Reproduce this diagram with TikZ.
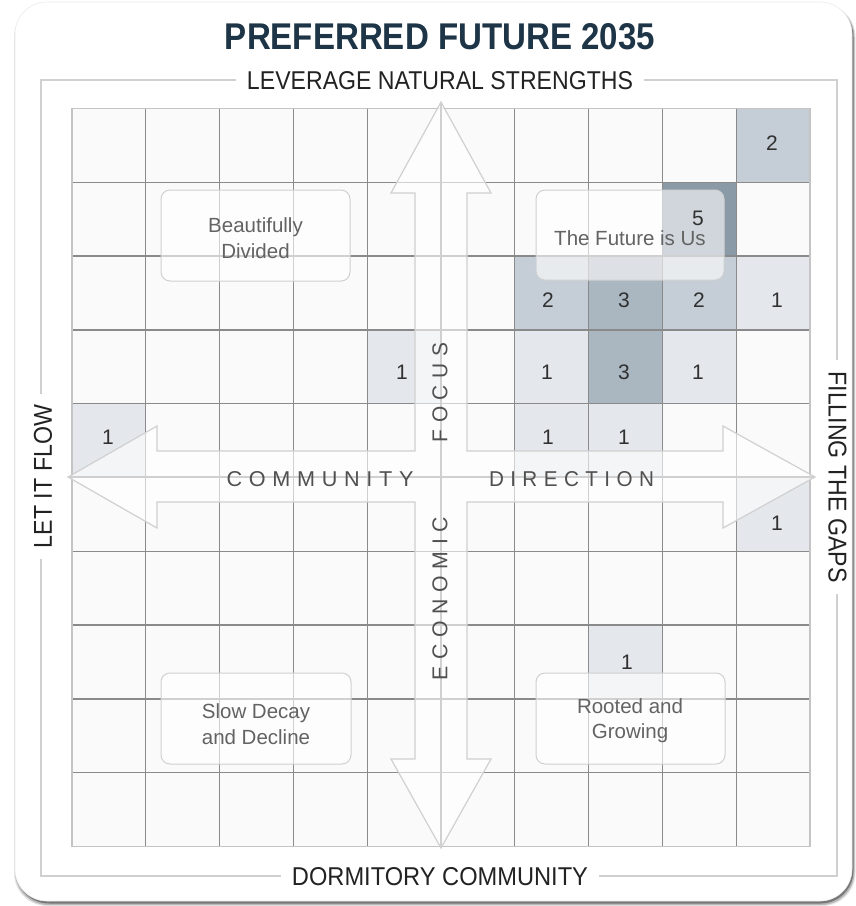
\documentclass[tikz,border=0pt]{standalone}
\usepackage{fontspec}
\setmainfont{Liberation Sans}
\usepackage{graphicx}
\definecolor{titlecol}{HTML}{1D3547}
\definecolor{labelcol}{HTML}{222222}
\definecolor{axiscol}{HTML}{505050}
\definecolor{boxtext}{HTML}{636363}
\definecolor{numcol}{HTML}{303030}
\definecolor{gridcol}{HTML}{8A8A8A}
\definecolor{gridedge}{HTML}{C4C4C4}
\definecolor{gridbg}{HTML}{FAFAFA}
\definecolor{framecol}{HTML}{D0D0D0}
\definecolor{arrowcol}{HTML}{D0D0D0}
\definecolor{lvA}{HTML}{E4E8EC}
\definecolor{lvB}{HTML}{C5CED6}
\definecolor{lvC}{HTML}{AAB6C0}
\definecolor{lvD}{HTML}{8B9AA7}
\newdimen\trackamt
\trackamt=6.5pt
\def\trackit#1{\trackloop#1\relax\kern-\trackamt}
\def\trackloop#1{\ifx#1\relax\else#1\kern\trackamt\expandafter\trackloop\fi}
\tikzset{
  cellA/.style={fill=lvA},
  cellB/.style={fill=lvB},
  cellC/.style={fill=lvC},
  cellD/.style={fill=lvD},
  gridline/.style={draw=gridcol,line width=1.3pt},
  sidelabel/.style={fill=white,inner xsep=11pt,inner ysep=3pt,text=labelcol},
  axislabel/.style={text=axiscol,inner sep=0pt},
  quadbox/.style={draw=framecol,line width=1pt,fill=white,fill opacity=0.6,rounded corners=9pt},
  quadtext/.style={text=boxtext,align=center,font=\fontsize{20.5}{25.5}\selectfont},
  numlabel/.style={text=numcol,inner sep=0pt,font=\fontsize{21}{24}\selectfont},
}
\begin{document}
\begin{tikzpicture}[x=1pt,y=-1pt]
\useasboundingbox (0,0) rectangle (856,906);
\fill[white] (0,0) rectangle (856,906);
% card shadow and card
\fill[black,opacity=0.10,rounded corners=33pt] (14,4) rectangle (855.5,906);
\fill[black,opacity=0.20,rounded corners=33pt] (15,4) rectangle (854.5,905);
\fill[black,opacity=0.35,rounded corners=33pt] (16,4) rectangle (853.5,903.5);
\fill[white,rounded corners=32pt] (15,2) rectangle (852,901);
\draw[black!8,line width=0.6pt,rounded corners=32pt] (15,2) rectangle (852,901);
% title
\node[text=titlecol,inner sep=0pt] (title) at (440,37) {\resizebox{430pt}{26pt}{\bfseries PREFERRED FUTURE 2035}};
% frame
\draw[framecol,line width=1.2pt] (41,80) rectangle (837,876);
\node[sidelabel] (top) at (440,81) {\resizebox{386pt}{18pt}{LEVERAGE NATURAL STRENGTHS}};
\node[sidelabel] (bottom) at (440,877) {\resizebox{296pt}{18pt}{DORMITORY COMMUNITY}};
\node[sidelabel,rotate=90] (left) at (43,476.5) {\resizebox{143pt}{18pt}{LET IT FLOW}};
\node[sidelabel,rotate=-90] (right) at (837.5,477) {\resizebox{211pt}{18pt}{FILLING THE GAPS}};
% grid background
\fill[gridbg] (72,108.5) rectangle (810,846.5);
% cells
\foreach \c/\r/\s in {9/0/cellB, 8/1/cellD, 6/2/cellB, 7/2/cellC, 8/2/cellB, 9/2/cellA,
  4/3/cellA, 6/3/cellA, 7/3/cellC, 8/3/cellA, 0/4/cellA, 6/4/cellA, 7/4/cellA, 9/5/cellA, 7/7/cellA}
  \fill[\s] ({72+\c*73.8},{108.5+\r*73.8}) rectangle +(73.8,73.8);
% grid lines
\foreach \i in {1,...,9}{
  \draw[gridline] ({72+\i*73.8},108.5) -- ({72+\i*73.8},846.5);
  \draw[gridline] (72,{108.5+\i*73.8}) -- (810,{108.5+\i*73.8});
}
\draw[gridedge,line width=1.2pt] (72,108.5) rectangle (810,846.5);
% cross arrow
\draw[arrowcol,line width=1.2pt,fill=white,fill opacity=0.6,line join=miter]
  (441,102) -- (491,193) -- (467,193) -- (467,451) -- (723,451) -- (723,426) -- (815,477)
  -- (723,528) -- (723,502) -- (467,502) -- (467,759) -- (491,759) -- (441,848)
  -- (391,759) -- (415,759) -- (415,502) -- (157,502) -- (157,528) -- (68,477)
  -- (157,426) -- (157,451) -- (415,451) -- (415,193) -- (391,193) -- cycle;
\coordinate (vtop) at (441,102);
\coordinate (vbot) at (441,848);
\coordinate (hleft) at (68,477);
\coordinate (hright) at (815,477);
\draw[arrowcol,line width=1.3pt] (vtop) -- (vbot);
\draw[arrowcol,line width=1.3pt] (hleft) -- (hright);
% axis labels
\node[axislabel] (community) at (320,479) {\resizebox{187pt}{15pt}{\fontsize{21}{24}\selectfont\trackit{COMMUNITY}}};
\node[axislabel] (direction) at (571.5,479) {\resizebox{165pt}{15pt}{\fontsize{21}{24}\selectfont\trackit{DIRECTION}}};
\node[axislabel,rotate=90] (focus) at (440,392.5) {\resizebox{99pt}{15pt}{\fontsize{21}{24}\selectfont\trackit{FOCUS}}};
\node[axislabel,rotate=90] (economic) at (440,598.5) {\resizebox{163pt}{15pt}{\fontsize{21}{24}\selectfont\trackit{ECONOMIC}}};
% quadrant boxes
\draw[quadbox] (161,190) rectangle (350,281);
\node[quadtext] (bd) at (255.5,238) {Beautifully\\Divided};
\draw[quadbox] (536,190) rectangle (724,280);
\node[quadtext] (fu) at (630,238) {The Future is Us};
\draw[quadbox] (161,673) rectangle (351,764);
\node[quadtext] (sd) at (256,724) {Slow Decay\\and Decline};
\draw[quadbox] (536,673) rectangle (725,764);
\node[quadtext] (rg) at (630,720.5) {Rooted and\\Growing};
% numbers
\node[numlabel] (n02) at (772,143) {2};
\node[numlabel] (n15) at (698,218) {5};
\node[numlabel] (n26) at (548,300) {2};
\node[numlabel] (n27) at (624,300) {3};
\node[numlabel] (n28) at (699,300) {2};
\node[numlabel] (n29) at (777,300) {1};
\node[numlabel] (n34) at (402,372) {1};
\node[numlabel] (n36) at (547,372) {1};
\node[numlabel] (n37) at (624,372) {3};
\node[numlabel] (n38) at (698,372) {1};
\node[numlabel] (n40) at (108,437) {1};
\node[numlabel] (n46) at (548,437) {1};
\node[numlabel] (n47) at (624,437) {1};
\node[numlabel] (n59) at (777,523) {1};
\node[numlabel] (n77) at (627,662) {1};
\end{tikzpicture}
\end{document}
